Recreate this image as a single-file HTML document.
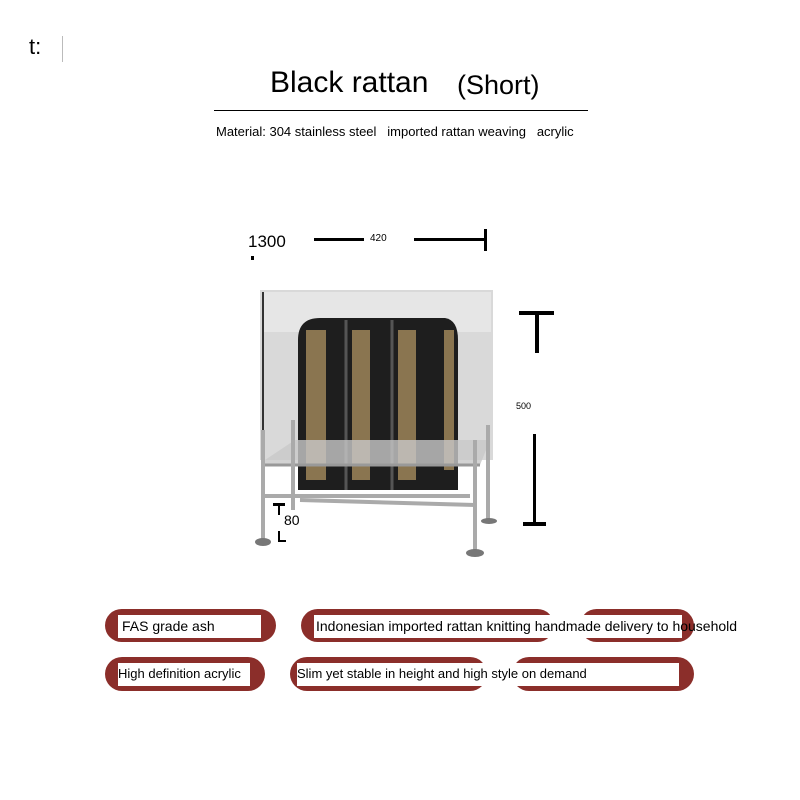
<!DOCTYPE html>
<html><head><style>
body{margin:0;width:800px;height:800px;background:#fff;position:relative;font-family:"Liberation Sans",sans-serif;overflow:hidden}
.a{position:absolute}
.pill{position:absolute;background:#8b2e2a;border-radius:17px}
.box{position:absolute;background:#fff;font-size:14px;color:#000;line-height:22px;white-space:nowrap}
</style></head><body>
<div class="a" style="left:29px;top:34px;font-size:22px">t:</div>
<div class="a" style="left:62px;top:36px;width:1px;height:26px;background:#bbb"></div>
<div class="a" style="left:270px;top:66px;font-size:30px">Black rattan</div>
<div class="a" style="left:457px;top:70px;font-size:27px">(Short)</div>
<div class="a" style="left:214px;top:110px;width:374px;height:1px;background:#000"></div>
<div class="a" style="left:216px;top:124px;font-size:13px">Material: 304 stainless steel &nbsp;&nbsp;imported rattan weaving &nbsp;&nbsp;acrylic</div>

<div class="a" style="left:248px;top:232px;font-size:17px">1300</div>
<div class="a" style="left:251px;top:256px;width:3px;height:4px;background:#000"></div>
<div class="a" style="left:314px;top:238px;width:50px;height:3px;background:#000"></div>
<div class="a" style="left:370px;top:233px;font-size:10px">420</div>
<div class="a" style="left:414px;top:238px;width:72px;height:3px;background:#000"></div>
<div class="a" style="left:484px;top:229px;width:3px;height:22px;background:#000"></div>

<div class="a" style="left:519px;top:311px;width:35px;height:4px;background:#000"></div>
<div class="a" style="left:535px;top:311px;width:4px;height:42px;background:#000"></div>
<div class="a" style="left:516px;top:401px;font-size:9px">500</div>
<div class="a" style="left:533px;top:434px;width:3px;height:90px;background:#000"></div>
<div class="a" style="left:523px;top:522px;width:23px;height:4px;background:#000"></div>

<svg class="a" style="left:0;top:0" width="800" height="800">
<rect x="260" y="290" width="233" height="170" fill="#d9d9d9"/>
<rect x="262" y="292" width="229" height="40" fill="#e6e6e6"/>
<line x1="263" y1="292" x2="263" y2="430" stroke="#333" stroke-width="2"/>
<path d="M298 340 Q298 318 320 318 L445 318 Q458 320 458 340 L458 490 L298 490 Z" fill="#1e1e1e"/>
<rect x="306" y="330" width="20" height="150" fill="#8a7550"/>
<rect x="352" y="330" width="18" height="150" fill="#8a7550"/>
<rect x="398" y="330" width="18" height="150" fill="#8a7550"/>
<rect x="444" y="330" width="10" height="140" fill="#8a7550"/>
<line x1="346" y1="320" x2="346" y2="490" stroke="#555" stroke-width="3"/>
<line x1="392" y1="320" x2="392" y2="490" stroke="#555" stroke-width="3"/>
<polygon points="262,462 295,440 490,440 480,465 262,465" fill="#c8c8c8" opacity=".8"/>
<line x1="262" y1="465" x2="480" y2="465" stroke="#999" stroke-width="3"/>
<line x1="262" y1="496" x2="470" y2="496" stroke="#aaa" stroke-width="4"/>
<line x1="300" y1="500" x2="475" y2="505" stroke="#aaa" stroke-width="4"/>
<g stroke="#aaa" stroke-width="4">
<line x1="263" y1="430" x2="263" y2="540"/><line x1="293" y1="420" x2="293" y2="510"/>
<line x1="475" y1="440" x2="475" y2="550"/><line x1="488" y1="425" x2="488" y2="520"/>
</g>
<ellipse cx="263" cy="542" rx="8" ry="4" fill="#777"/>
<ellipse cx="475" cy="553" rx="9" ry="4" fill="#777"/>
<ellipse cx="489" cy="521" rx="8" ry="3" fill="#777"/>
<rect x="273" y="503" width="12" height="3" fill="#000"/><rect x="278" y="503" width="2" height="12" fill="#000"/>
<rect x="278" y="531" width="2" height="11" fill="#000"/><rect x="278" y="540" width="8" height="2" fill="#000"/>
</svg>
<div class="a" style="left:284px;top:512px;font-size:14px;background:#fff">80</div>

<div class="pill" style="left:105px;top:609px;width:171px;height:33px"></div>
<div class="pill" style="left:301px;top:609px;width:253px;height:33px"></div>
<div class="pill" style="left:580px;top:609px;width:114px;height:33px"></div>
<div class="pill" style="left:105px;top:657px;width:160px;height:34px"></div>
<div class="pill" style="left:290px;top:657px;width:197px;height:34px"></div>
<div class="pill" style="left:512px;top:657px;width:182px;height:34px"></div>
<div class="box" style="left:118px;top:615px;width:139px;height:23px;padding-left:4px">FAS grade ash</div>
<div class="box" style="left:314px;top:615px;width:366px;height:23px;padding-left:2px">Indonesian imported rattan knitting handmade delivery to household</div>
<div class="box" style="left:118px;top:663px;width:132px;height:23px;font-size:13px">High definition acrylic</div>
<div class="box" style="left:297px;top:663px;width:382px;height:23px;font-size:13px">Slim yet stable in height and high style on demand</div>
</body></html>
